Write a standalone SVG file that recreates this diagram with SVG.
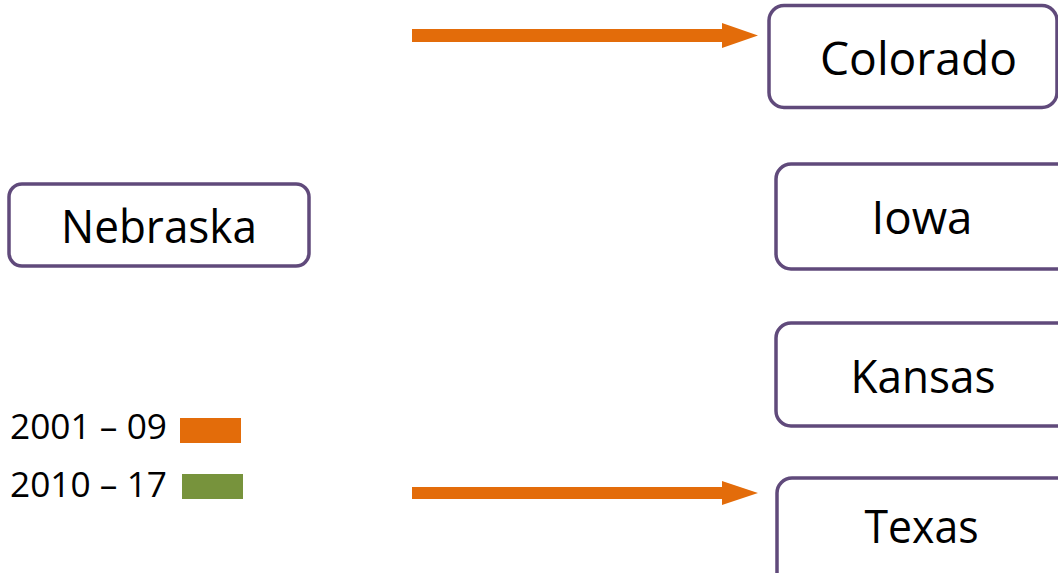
<svg xmlns="http://www.w3.org/2000/svg" width="1058" height="573" viewBox="0 0 1058 573">
<style>
.box{fill:#FFFFFF;stroke:#604A7B;stroke-width:3.5}
.lbl{font-family:"Open Sans","Noto Sans","Liberation Sans",sans-serif;font-size:46px;fill:#000000;text-anchor:middle}
.leg{font-family:"Open Sans","Noto Sans","Liberation Sans",sans-serif;font-size:34px;fill:#000000}
.arr{fill:#E36C0A}
</style>
<rect width="1058" height="573" fill="#FFFFFF"/>
<g id="connectors">
<polygon class="arr" points="412,29 722,29 722,23 758,35.5 722,48 722,42 412,42"/>
<polygon class="arr" points="412,487 722,487 722,481 758,493 722,505 722,499 412,499"/>
</g>
<g id="node-colorado">
<rect class="box" x="769" y="5.5" width="288" height="102" rx="15"/>
<text class="lbl" x="918.5" y="75" textLength="197" lengthAdjust="spacingAndGlyphs">Colorado</text>
</g>
<g id="node-nebraska">
<rect class="box" x="9" y="184" width="300" height="82" rx="13"/>
<text class="lbl" x="159" y="243" textLength="196" lengthAdjust="spacingAndGlyphs">Nebraska</text>
</g>
<g id="node-iowa">
<rect class="box" x="776" y="164" width="300" height="105" rx="15"/>
<text class="lbl" x="922" y="234" textLength="101" lengthAdjust="spacingAndGlyphs">Iowa</text>
</g>
<g id="node-kansas">
<rect class="box" x="776" y="323" width="300" height="103" rx="15"/>
<text class="lbl" x="923" y="393" textLength="145" lengthAdjust="spacingAndGlyphs">Kansas</text>
</g>
<g id="node-texas">
<rect class="box" x="777" y="478" width="300" height="120" rx="15"/>
<text class="lbl" x="921.5" y="543" textLength="114" lengthAdjust="spacingAndGlyphs">Texas</text>
</g>
<g id="legend">
<text class="leg" x="10" y="439" textLength="157" lengthAdjust="spacingAndGlyphs">2001 – 09</text>
<rect x="180" y="418" width="61" height="25" fill="#E36C0A"/>
<text class="leg" x="10" y="497" textLength="157" lengthAdjust="spacingAndGlyphs">2010 – 17</text>
<rect x="182" y="474" width="61" height="25" fill="#77933C"/>
</g>
</svg>
